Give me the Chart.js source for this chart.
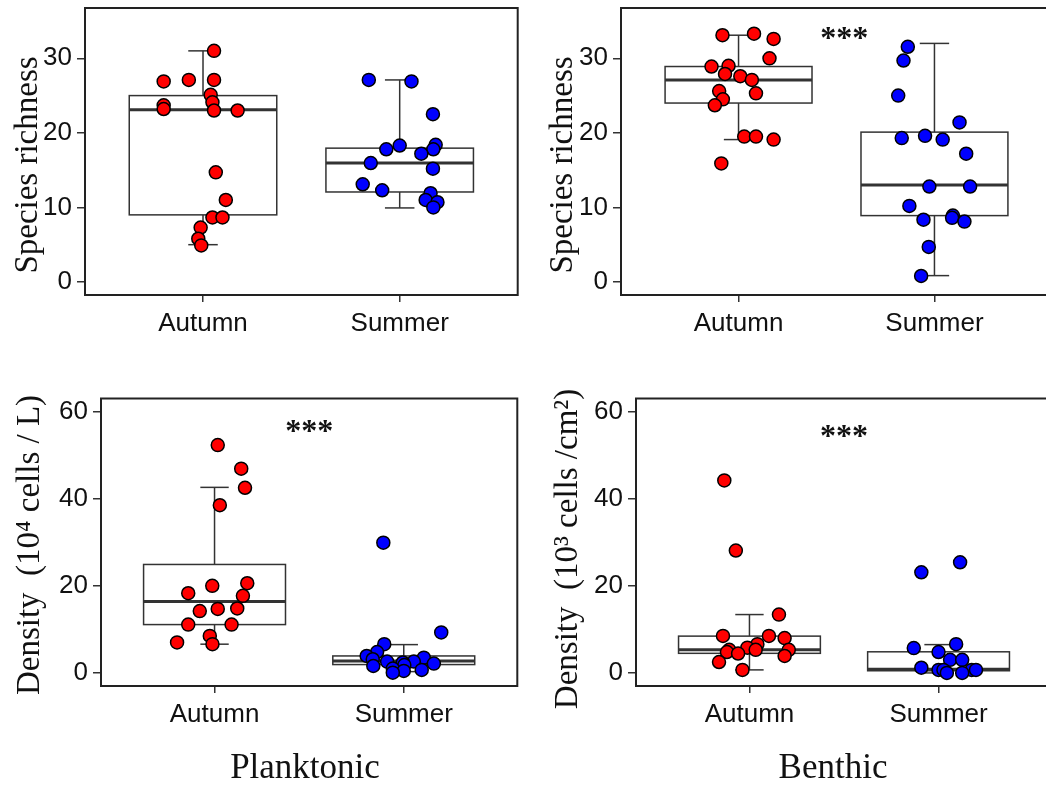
<!DOCTYPE html>
<html>
<head>
<meta charset="utf-8">
<script src="https://cdn.jsdelivr.net/npm/chart.js@4.4.1/dist/chart.umd.min.js"></script>
<style>
  html, body { margin: 0; padding: 0; background: #fff; width: 1046px; height: 789px; overflow: hidden; position: relative; }
  canvas { position: absolute; left: 0; top: 0; }
  .group { position: absolute; top: 749px; font-family: "Liberation Serif", "Times New Roman", serif; font-size: 35px; line-height: 1; color: #111; transform: translateX(-50%); white-space: nowrap; }
</style>
</head>
<body>
<canvas id="p1"></canvas>
<canvas id="p2"></canvas>
<canvas id="p3"></canvas>
<canvas id="p4"></canvas>
<div class="group" style="left:305px">Planktonic</div>
<div class="group" style="left:833px">Benthic</div>
<script>
const categories = ['Autumn', 'Summer'];
const richTicks = [0, 10, 20, 30];
const densTicks = [0, 20, 40, 60];

// box stats: [lower whisker, Q1, median, Q3, upper whisker]
// planktonic species richness
const plankRichAut = [31.0, 26.9, 27.1, 27.1, 25.1, 24.1, 23.7, 23.2, 23.0, 23.0, 14.7, 11.0, 8.65, 8.65, 7.3, 5.8, 4.9];
const plankRichAutJit = [0.056, -0.20, -0.072, 0.056, 0.039, 0.048, -0.20, -0.20, 0.056, 0.176, 0.065, 0.116, 0.048, 0.099, -0.012, -0.024, -0.009];
const plankRichSum = [27.1, 26.9, 22.5, 18.3, 17.8, 18.4, 17.8, 17.2, 15.95, 15.2, 13.1, 12.3, 11.9, 11.0, 10.7, 10.0];
const plankRichSumJit = [-0.157, 0.060, 0.169, 0.0, -0.068, 0.183, 0.171, 0.110, -0.147, 0.169, -0.188, -0.089, 0.157, 0.132, 0.192, 0.171];
const plankRichBox = [[5.0, 9.0, 23.1, 25.0, 31.0], [9.93, 12.07, 15.95, 17.95, 27.1]];

// benthic species richness
const benthRichAut = [33.1, 33.3, 32.6, 30.0, 28.9, 29.0, 27.9, 27.6, 27.1, 25.6, 25.3, 24.5, 23.7, 19.5, 19.5, 19.1, 15.9];
const benthRichAutJit = [-0.082, 0.079, 0.179, 0.158, -0.138, -0.051, -0.069, 0.009, 0.068, -0.099, 0.089, -0.080, -0.121, 0.029, 0.089, 0.179, -0.088];
const benthRichSum = [31.55, 29.7, 25.0, 21.4, 19.6, 19.3, 19.1, 17.2, 12.8, 12.8, 10.2, 8.9, 8.6, 8.1, 8.35, 4.7, 0.8];
const benthRichSumJit = [-0.136, -0.158, -0.185, 0.128, -0.048, -0.167, 0.042, 0.162, -0.026, 0.182, -0.128, 0.094, 0.090, 0.153, -0.056, -0.029, -0.068];
const benthRichBox = [[19.1, 24.0, 27.1, 28.9, 33.1], [0.85, 8.9, 13.0, 20.1, 32.0]];

// planktonic density
const plankDensAut = [52.3, 46.9, 42.5, 38.5, 20.0, 20.6, 18.3, 17.7, 14.2, 14.7, 14.8, 11.1, 11.1, 8.5, 7.0, 6.6];
const plankDensAutJit = [0.017, 0.141, 0.161, 0.028, -0.012, 0.173, -0.139, 0.150, -0.078, 0.017, 0.120, -0.139, 0.090, -0.025, -0.198, -0.011];
const plankDensSum = [29.9, 9.3, 6.6, 4.8, 3.9, 3.15, 2.6, 3.5, 2.6, 2.4, 2.15, 1.6, 1.8, 1.0, 0.7, 0.46, 0.07];
const plankDensSumJit = [-0.108, 0.198, -0.103, -0.141, -0.196, -0.164, -0.088, 0.106, 0.053, -0.005, 0.159, -0.161, 0.003, -0.058, 0.095, 0.0, -0.058];
const plankDensBox = [[6.6, 11.1, 16.4, 24.9, 42.6], [0.3, 1.92, 2.76, 3.9, 6.5]];

// benthic density
const benthDensAut = [44.2, 28.1, 13.4, 8.5, 8.5, 8.0, 6.6, 5.8, 5.3, 5.3, 5.3, 4.8, 4.45, 3.9, 2.5, 0.7];
const benthDensAutJit = [-0.133, -0.072, 0.156, -0.140, 0.103, 0.186, 0.042, -0.011, -0.107, 0.033, 0.208, -0.119, -0.060, 0.186, -0.161, -0.037];
const benthDensSum = [23.1, 25.4, 6.6, 5.7, 4.8, 3.0, 3.0, 1.2, 0.7, 0.7, 0.7, 0.7, 0.0, 0.0];
const benthDensSumJit = [-0.091, 0.114, 0.093, -0.131, 0.0, 0.061, 0.125, -0.091, 0.0, 0.026, 0.175, 0.198, 0.044, 0.125];
const benthDensBox = [[0.7, 4.5, 5.3, 8.45, 13.4], [0.0, 0.5, 0.85, 4.85, 6.5]];

const W = 1060, H = 789, YW = 50, XH = 45;
const tickFont = { family: 'Liberation Sans', size: 26 };
const titleFont = '33px "Liberation Serif"';

function line(ctx, x1, y1, x2, y2) {
  ctx.beginPath(); ctx.moveTo(x1, y1); ctx.lineTo(x2, y2); ctx.stroke();
}

const boxPlugin = {
  id: 'boxes',
  beforeDatasetsDraw(chart, args, o) {
    const { ctx, scales: { x, y } } = chart;
    o.stats.forEach((st, i) => {
      const c = i + 1;
      const [lo, q1, med, q3, hi] = st;
      const xl = x.getPixelForValue(c - 0.375), xr = x.getPixelForValue(c + 0.375);
      const xc = x.getPixelForValue(c);
      const cl = x.getPixelForValue(c - 0.075), cr = x.getPixelForValue(c + 0.075);
      ctx.save();
      ctx.strokeStyle = '#333';
      ctx.lineWidth = 1.5;
      line(ctx, xc, y.getPixelForValue(q3), xc, y.getPixelForValue(hi));
      line(ctx, xc, y.getPixelForValue(q1), xc, y.getPixelForValue(lo));
      line(ctx, cl, y.getPixelForValue(hi), cr, y.getPixelForValue(hi));
      line(ctx, cl, y.getPixelForValue(lo), cr, y.getPixelForValue(lo));
      const yt = y.getPixelForValue(q3), yb = y.getPixelForValue(q1);
      ctx.fillStyle = '#fff';
      ctx.fillRect(xl, yt, xr - xl, yb - yt);
      ctx.strokeRect(xl, yt, xr - xl, yb - yt);
      ctx.lineWidth = 3;
      line(ctx, xl, y.getPixelForValue(med), xr, y.getPixelForValue(med));
      ctx.restore();
    });
  },
  afterDraw(chart, args, o) {
    const { ctx, chartArea: a, scales: { x, y } } = chart;
    ctx.save();
    ctx.strokeStyle = '#222';
    ctx.lineWidth = 2;
    ctx.strokeRect(a.left, a.top, a.right - a.left, a.bottom - a.top);
    if (o.stars) {
      ctx.fillStyle = '#111';
      ctx.font = 'bold 32px "Liberation Serif"';
      ctx.textAlign = 'center';
      ctx.textBaseline = 'middle';
      ctx.fillText('***', x.getPixelForValue(o.stars[0]), y.getPixelForValue(o.stars[1]) + 5);
    }
    ctx.translate(o.titlePos[0], o.titlePos[1]);
    ctx.rotate(-Math.PI / 2);
    ctx.fillStyle = '#111';
    ctx.font = titleFont;
    ctx.textAlign = 'center';
    ctx.textBaseline = 'middle';
    ctx.fillText(o.title, 0, 0);
    ctx.restore();
  }
};

function scatterData(vals, jit, c) {
  return vals.map((v, i) => ({ x: c + jit[i], y: v }));
}

function makePanel(p) {
  const canvas = document.getElementById(p.id);
  canvas.width = W;
  canvas.height = H;
  const pt = { pointRadius: 6.5, pointBorderWidth: 1.5, borderColor: '#000', pointBorderColor: '#000' };
  new Chart(canvas, {
    type: 'scatter',
    data: {
      datasets: [
        Object.assign({ data: scatterData(p.aut, p.autJit, 1), backgroundColor: '#ff0000' }, pt),
        Object.assign({ data: scatterData(p.sum, p.sumJit, 2), backgroundColor: '#0000ff' }, pt)
      ]
    },
    options: {
      responsive: false,
      animation: false,
      events: [],
      devicePixelRatio: 1,
      layout: { padding: { left: p.L - YW, top: p.T, right: W - p.R, bottom: H - p.B - XH } },
      plugins: {
        legend: { display: false },
        tooltip: { enabled: false },
        boxes: { stats: p.box, stars: p.stars, title: p.title, titlePos: p.titlePos }
      },
      scales: {
        x: {
          type: 'linear', min: 0.4, max: 2.6,
          afterBuildTicks: s => { s.ticks = categories.map((c, i) => ({ value: i + 1 })); },
          afterFit: s => { s.height = XH; s.paddingLeft = 0; s.paddingRight = 0; },
          ticks: { callback: v => categories[Math.round(v) - 1], font: tickFont, color: '#111', padding: 6, maxRotation: 0, autoSkip: false },
          grid: { drawOnChartArea: false, tickLength: 7, color: '#333', lineWidth: 1.5 },
          border: { display: false }
        },
        y: {
          type: 'linear', min: p.yMin, max: p.yMax,
          afterBuildTicks: s => { s.ticks = p.yTicks.map(v => ({ value: v })); },
          afterFit: s => { s.width = YW; s.paddingTop = 0; s.paddingBottom = 0; },
          ticks: { font: tickFont, color: '#111', padding: 5 },
          grid: { drawOnChartArea: false, tickLength: 8, color: '#333', lineWidth: 1.5 },
          border: { display: false }
        }
      }
    },
    plugins: [boxPlugin]
  });
}

makePanel({ id: 'p1', L: 85, R: 517.7, T: 7, B: 295, yMin: -1.75, yMax: 36.75, yTicks: richTicks,
  aut: plankRichAut, autJit: plankRichAutJit, sum: plankRichSum, sumJit: plankRichSumJit, box: plankRichBox,
  stars: null, title: 'Species richness', titlePos: [28, 165] });
makePanel({ id: 'p2', L: 621, R: 1053.7, T: 7, B: 295, yMin: -1.75, yMax: 36.75, yTicks: richTicks,
  aut: benthRichAut, autJit: benthRichAutJit, sum: benthRichSum, sumJit: benthRichSumJit, box: benthRichBox,
  stars: [1.54, 33.2], title: 'Species richness', titlePos: [563, 165] });
makePanel({ id: 'p3', L: 101, R: 517.3, T: 398.5, B: 686, yMin: -3, yMax: 63, yTicks: densTicks,
  aut: plankDensAut, autJit: plankDensAutJit, sum: plankDensSum, sumJit: plankDensSumJit, box: plankDensBox,
  stars: [1.5, 56.4], title: 'Density  (10\u2074 cells / L)', titlePos: [30, 545] });
makePanel({ id: 'p4', L: 636, R: 1052, T: 398.5, B: 686, yMin: -3, yMax: 63, yTicks: densTicks,
  aut: benthDensAut, autJit: benthDensAutJit, sum: benthDensSum, sumJit: benthDensSumJit, box: benthDensBox,
  stars: [1.5, 55.1], title: 'Density  (10\u00b3 cells /cm\u00b2)', titlePos: [568, 549] });
</script>
</body>
</html>
